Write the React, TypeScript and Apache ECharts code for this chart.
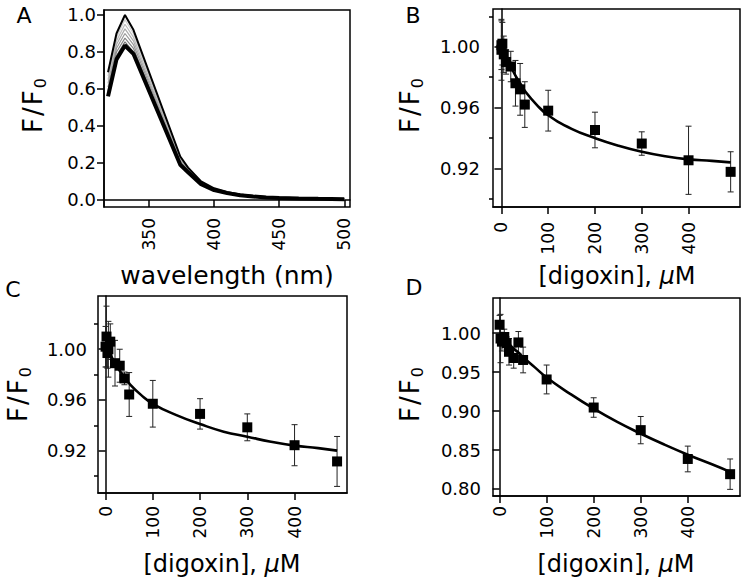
import React, { useEffect, useRef } from "react";
import * as echarts from "echarts";

const FONT = "'DejaVu Sans', Verdana, sans-serif";

// ---------- Panel A: emission spectra ----------
const wavelengths = [318.5, 325, 331.5, 338, 374, 380, 390, 400, 410, 420, 430, 440, 450, 465, 480, 500];
const specTop = [0.69, 0.9, 1.0, 0.92, 0.235, 0.175, 0.1, 0.063, 0.043, 0.03, 0.022, 0.016, 0.013, 0.009, 0.007, 0.005];
const specGrey1 = [0.67, 0.88, 0.975, 0.9, 0.228, 0.171, 0.098, 0.061, 0.042, 0.029, 0.021, 0.016, 0.013, 0.009, 0.007, 0.005];
const specGrey2 = [0.65, 0.86, 0.95, 0.88, 0.222, 0.167, 0.096, 0.06, 0.041, 0.029, 0.021, 0.015, 0.012, 0.009, 0.007, 0.005];
const specGrey3 = [0.63, 0.84, 0.925, 0.86, 0.215, 0.163, 0.093, 0.058, 0.04, 0.028, 0.02, 0.015, 0.012, 0.009, 0.006, 0.005];
const specGrey4 = [0.61, 0.82, 0.9, 0.84, 0.208, 0.159, 0.091, 0.057, 0.039, 0.028, 0.02, 0.015, 0.012, 0.008, 0.006, 0.004];
const specGrey5 = [0.59, 0.8, 0.875, 0.82, 0.201, 0.155, 0.089, 0.055, 0.038, 0.027, 0.02, 0.014, 0.011, 0.008, 0.006, 0.004];
const specGrey6 = [0.575, 0.78, 0.855, 0.8, 0.195, 0.152, 0.087, 0.054, 0.038, 0.026, 0.019, 0.014, 0.011, 0.008, 0.006, 0.004];
const specBottom = [0.56, 0.76, 0.835, 0.79, 0.19, 0.15, 0.085, 0.053, 0.037, 0.026, 0.019, 0.014, 0.011, 0.008, 0.006, 0.004];
const greySpectra = [specGrey1, specGrey2, specGrey3, specGrey4, specGrey5, specGrey6];
const greyColors = ["#cfcfcf", "#bdbdbd", "#ababab", "#999999", "#878787", "#757575"];
const aXTicks = [350, 400, 450, 500];
const aYTicks = [0, 0.2, 0.4, 0.6, 0.8, 1.0];

// ---------- Panels B, C, D: titrations ----------
const concTicks = [0, 100, 200, 300, 400];
const fitConc = [0, 10, 20, 30, 40, 50, 75, 100, 150, 200, 250, 300, 350, 400, 450, 490];

const bConc = [0, 0, 2, 5, 10, 20, 30, 40, 50, 100, 200, 300, 400, 490];
const bMean = [0.998, 1.001, 1.002, 0.995, 0.99, 0.987, 0.976, 0.972, 0.962, 0.958, 0.9453, 0.9364, 0.9254, 0.9178];
const bErr = [0.02, 0.016, 0.014, 0.012, 0.008, 0.01, 0.015, 0.017, 0.015, 0.0134, 0.0117, 0.0077, 0.0224, 0.0132];
const bFit = [1.0, 0.993, 0.987, 0.981, 0.976, 0.971, 0.962, 0.955, 0.946, 0.94, 0.935, 0.931, 0.928, 0.926, 0.925, 0.924];
const bYTicks = [0.92, 0.96, 1.0];
const bYMinor = [0.9, 0.94, 0.98, 1.02];

const cConc = [0, 2, 4, 6, 10, 20, 30, 40, 50, 100, 200, 300, 400, 490];
const cMean = [1.002, 1.01, 0.997, 1.0, 1.006, 0.989, 0.987, 0.977, 0.9643, 0.957, 0.949, 0.9384, 0.9243, 0.9115];
const cErr = [0.016, 0.024, 0.012, 0.022, 0.014, 0.018, 0.013, 0.005, 0.0173, 0.0184, 0.012, 0.0106, 0.0162, 0.0197];
const cFit = [1.003, 0.996, 0.989, 0.983, 0.978, 0.973, 0.964, 0.957, 0.948, 0.941, 0.935, 0.931, 0.927, 0.924, 0.922, 0.92];
const cYTicks = [0.92, 0.96, 1.0];
const cYMinor = [0.9, 0.94, 0.98, 1.02];

const dConc = [0, 2, 5, 10, 15, 20, 30, 40, 50, 100, 200, 300, 400, 490];
const dMean = [1.0107, 0.993, 0.989, 0.995, 0.987, 0.976, 0.968, 0.988, 0.9655, 0.9405, 0.9045, 0.8755, 0.8385, 0.819];
const dErr = [0.012, 0.031, 0.012, 0.01, 0.008, 0.017, 0.013, 0.014, 0.0165, 0.0185, 0.0125, 0.0175, 0.0165, 0.0195];
const dFit = [0.997, 0.991, 0.986, 0.98, 0.975, 0.969, 0.956, 0.943, 0.922, 0.903, 0.886, 0.871, 0.857, 0.844, 0.832, 0.822];
const dYTicks = [0.8, 0.85, 0.9, 0.95, 1.0];

const tickLabelStyle = { color: "#000", fontFamily: FONT, fontSize: 18 };

function xAxisDef(gridIndex: number, min: number, max: number, ticks: number[], margin: number) {
  return {
    type: "value",
    gridIndex,
    min,
    max,
    axisLine: { show: true, lineStyle: { color: "#000", width: 1.5 } },
    axisTick: { show: true, inside: false, length: 7, customValues: ticks, lineStyle: { color: "#000", width: 1.5 } },
    axisLabel: { ...tickLabelStyle, fontSize: 17, rotate: 90, margin, customValues: ticks, formatter: (v: number) => String(v) },
    splitLine: { show: false },
  };
}

function yAxisDef(gridIndex: number, min: number, max: number, ticks: number[], decimals: number, margin: number) {
  return {
    type: "value",
    gridIndex,
    min,
    max,
    axisLine: { show: true, lineStyle: { color: "#000", width: 1.5 } },
    axisTick: { show: true, inside: false, length: 7, customValues: ticks, lineStyle: { color: "#000", width: 1.5 } },
    axisLabel: { ...tickLabelStyle, margin, customValues: ticks, formatter: (v: number) => v.toFixed(decimals) },
    splitLine: { show: false },
  };
}

function yMinorDef(gridIndex: number, min: number, max: number, ticks: number[]) {
  return {
    type: "value",
    gridIndex,
    min,
    max,
    position: "left",
    axisLine: { show: false },
    axisTick: { show: true, inside: false, length: 4, customValues: ticks, lineStyle: { color: "#000", width: 1.5 } },
    axisLabel: { show: false },
    splitLine: { show: false },
  };
}

function errorSeries(xi: number, yi: number, conc: number[], mean: number[], err: number[]) {
  return {
    type: "custom",
    xAxisIndex: xi,
    yAxisIndex: yi,
    z: 2,
    clip: false,
    silent: true,
    data: conc.map((c, i) => [c, mean[i] - err[i], mean[i] + err[i]]),
    renderItem: (params: any, api: any) => {
      const x = api.value(0);
      const lo = api.coord([x, api.value(1)]);
      const hi = api.coord([x, api.value(2)]);
      const cap = 3;
      const st = { stroke: "#222", lineWidth: 1 };
      return {
        type: "group",
        children: [
          { type: "line", shape: { x1: hi[0], y1: hi[1], x2: lo[0], y2: lo[1] }, style: st },
          { type: "line", shape: { x1: hi[0] - cap, y1: hi[1], x2: hi[0] + cap, y2: hi[1] }, style: st },
          { type: "line", shape: { x1: lo[0] - cap, y1: lo[1], x2: lo[0] + cap, y2: lo[1] }, style: st },
        ],
      };
    },
  };
}

function scatterSeries(xi: number, yi: number, conc: number[], mean: number[]) {
  return {
    type: "scatter",
    xAxisIndex: xi,
    yAxisIndex: yi,
    z: 3,
    silent: true,
    symbol: "rect",
    symbolSize: 10,
    itemStyle: { color: "#000", opacity: 1 },
    data: conc.map((c, i) => [c, mean[i]]),
  };
}

function fitSeries(xi: number, yi: number, fit: number[]) {
  return {
    type: "line",
    xAxisIndex: xi,
    yAxisIndex: yi,
    z: 4,
    smooth: true,
    symbol: "none",
    showSymbol: false,
    silent: true,
    lineStyle: { color: "#000", width: 2.6 },
    data: fitConc.map((c, i) => [c, fit[i]]),
  };
}

function yTitle(x: number, y: number) {
  return {
    type: "text",
    x,
    y,
    rotation: Math.PI / 2,
    style: {
      text: "{a|F}{b|/}{a|F}{s|0}",
      align: "center",
      verticalAlign: "middle",
      fill: "#000",
      rich: {
        a: { fontSize: 26, fontFamily: FONT, lineHeight: 30, verticalAlign: "bottom", fill: "#000", padding: [0, 1, 0, 1] },
        b: { fontSize: 26, fontFamily: FONT, lineHeight: 30, verticalAlign: "bottom", fill: "#000", padding: [0, 1, 0, 1] },
        s: { fontSize: 16, fontFamily: FONT, lineHeight: 15, verticalAlign: "bottom", fill: "#000", padding: [0, 0, -2, 1] },
      },
    },
  };
}

function xTitleDigoxin(x: number, y: number) {
  return {
    type: "text",
    x,
    y,
    style: {
      text: "{t|[digoxin], }{i|μ}{t|M}",
      align: "center",
      verticalAlign: "middle",
      fill: "#000",
      rich: {
        t: { fontSize: 24, fontFamily: FONT, fill: "#000" },
        i: { fontSize: 24, fontFamily: FONT, fontStyle: "italic", fill: "#000" },
      },
    },
  };
}

function letter(t: string, x: number, y: number) {
  return {
    type: "text",
    x,
    y,
    style: { text: t, fontSize: 22, fontFamily: FONT, fill: "#000", align: "center", verticalAlign: "middle" },
  };
}

export default function App() {
  const ref = useRef<HTMLDivElement>(null);
  useEffect(() => {
    if (!ref.current) return;
    const chart = echarts.init(ref.current, undefined, { renderer: "svg" });
    const gridStyle = { show: true, borderColor: "#000", borderWidth: 1.5, backgroundColor: "transparent", containLabel: false, outerBoundsMode: "none" };

    const series: any[] = [];
    greySpectra.forEach((arr, k) => {
      series.push({
        type: "line",
        xAxisIndex: 0,
        yAxisIndex: 0,
        symbol: "none",
        showSymbol: false,
        silent: true,
        lineStyle: { color: greyColors[k], width: 1.2 },
        data: wavelengths.map((w, i) => [w, arr[i]]),
      });
    });
    series.push({
      type: "line",
      xAxisIndex: 0,
      yAxisIndex: 0,
      symbol: "none",
      showSymbol: false,
      silent: true,
      lineStyle: { color: "#000", width: 2 },
      data: wavelengths.map((w, i) => [w, specTop[i]]),
    });
    series.push({
      type: "line",
      xAxisIndex: 0,
      yAxisIndex: 0,
      symbol: "none",
      showSymbol: false,
      silent: true,
      lineStyle: { color: "#000", width: 4 },
      data: wavelengths.map((w, i) => [w, specBottom[i]]),
    });

    // B: x 1, y 1 (minor y 2)
    series.push(errorSeries(1, 1, bConc, bMean, bErr), scatterSeries(1, 1, bConc, bMean), fitSeries(1, 1, bFit));
    // C: x 2, y 3 (minor y 4)
    series.push(errorSeries(2, 3, cConc, cMean, cErr), scatterSeries(2, 3, cConc, cMean), fitSeries(2, 3, cFit));
    // D: x 3, y 5
    series.push(errorSeries(3, 5, dConc, dMean, dErr), scatterSeries(3, 5, dConc, dMean), fitSeries(3, 5, dFit));

    chart.setOption({
      animation: false,
      backgroundColor: "#fff",
      grid: [
        { ...gridStyle, left: 104, top: 10, width: 246, height: 197 },
        { ...gridStyle, left: 493, top: 9, width: 247, height: 198 },
        { ...gridStyle, left: 98, top: 296, width: 249, height: 197 },
        { ...gridStyle, left: 493, top: 298, width: 247, height: 198 },
      ],
      xAxis: [
        xAxisDef(0, 315.4, 504.4, aXTicks, 11),
        xAxisDef(1, -18, 510, concTicks, 15),
        xAxisDef(2, -16, 511, concTicks, 13),
        xAxisDef(3, -14, 511, concTicks, 10),
      ],
      yAxis: [
        yAxisDef(0, -0.038, 1.027, aYTicks, 1, 8),
        yAxisDef(1, 0.8947, 1.0248, bYTicks, 2, 13),
        yMinorDef(1, 0.8947, 1.0248, bYMinor),
        yAxisDef(2, 0.8866, 1.042, cYTicks, 2, 11),
        yMinorDef(2, 0.8866, 1.042, cYMinor),
        yAxisDef(3, 0.791, 1.045, dYTicks, 2, 12),
      ],
      series,
      graphic: [
        letter("A", 24, 15),
        letter("B", 413, 15),
        letter("C", 13, 289),
        letter("D", 414, 287),
        yTitle(31, 106),
        yTitle(408, 106),
        yTitle(16, 395),
        yTitle(408, 395),
        {
          type: "text",
          x: 227,
          y: 275,
          style: { text: "wavelength (nm)", fontSize: 25, fontFamily: FONT, fill: "#000", align: "center", verticalAlign: "middle" },
        },
        xTitleDigoxin(617, 276),
        xTitleDigoxin(222, 564),
        xTitleDigoxin(616, 564),
      ],
    });
    return () => chart.dispose();
  }, []);
  return <div ref={ref} style={{ position: "absolute", left: 0, top: 0, width: 742, height: 580 }} />;
}
